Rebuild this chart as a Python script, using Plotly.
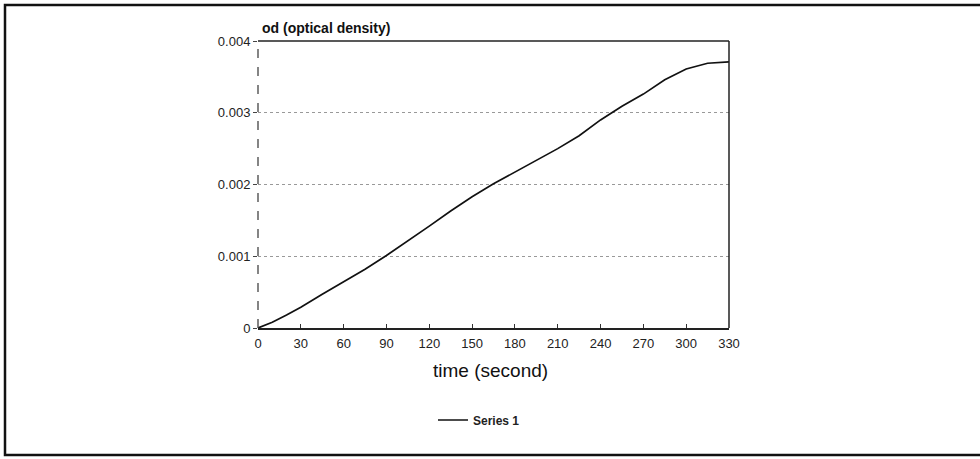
import plotly.graph_objects as go

time_s = [0, 10, 20, 30, 45, 60, 75, 90, 105, 120, 135, 150, 165, 180, 195, 210,
          225, 240, 255, 270, 285, 300, 315, 330]
od_values = [0, 0.00008, 0.00018, 0.00029, 0.00047, 0.00064, 0.00082, 0.00101,
             0.00121, 0.00142, 0.00163, 0.00183, 0.00201, 0.00217, 0.00233, 0.0025,
             0.00268, 0.00290, 0.00309, 0.00326, 0.00346, 0.00361, 0.00369, 0.00371]
x_ticks = [0, 30, 60, 90, 120, 150, 180, 210, 240, 270, 300, 330]
y_ticks = [0, 0.001, 0.002, 0.003, 0.004]
y_tick_labels = ["0", "0.001", "0.002", "0.003", "0.004"]

FONT = "Liberation Sans, Arial, sans-serif"
L, R, T, B = 258, 251, 41, 131
W, H = 980, 459
pw, ph = W - L - R, H - T - B

def px_x(p):
    return (p - L) / pw

def px_y(p):
    return (H - B - p) / ph

fig = go.Figure()
fig.add_trace(go.Scatter(x=time_s, y=od_values, mode="lines", name="Series 1",
                         line=dict(color="#111", width=1.7)))

fig.update_layout(
    width=W, height=H,
    margin=dict(l=L, r=R, t=T, b=B),
    paper_bgcolor="white", plot_bgcolor="white",
    font=dict(family=FONT, color="#222", size=12),
    showlegend=True,
    legend=dict(x=px_x(433), y=px_y(420), xanchor="left", yanchor="middle",
                font=dict(size=12, color="#222", weight="bold"),
                bgcolor="rgba(0,0,0,0)", itemwidth=30),
    xaxis=dict(range=[0, 330], tickvals=x_ticks, ticks="inside", ticklen=4,
               tickcolor="#333", showline=True, linecolor="#222", linewidth=1.5,
               showgrid=False, zeroline=False, ticklabelstandoff=3,
               tickfont=dict(size=13, color="#222")),
    yaxis=dict(range=[0, 0.004], tickvals=y_ticks, ticktext=y_tick_labels,
               ticks="outside", ticklen=4, tickcolor="#444",
               showline=False, showgrid=True, gridcolor="#999",
               griddash="dot", gridwidth=1, zeroline=False,
               tickfont=dict(size=13, color="#222")),
)

# frame lines: dashed left axis, solid top and right
fig.add_shape(type="line", xref="paper", yref="paper", x0=0, x1=0, y0=0, y1=1,
              line=dict(color="#444", width=1.3, dash="dash"))
fig.add_shape(type="line", xref="paper", yref="paper", x0=0, x1=1, y0=1, y1=1,
              line=dict(color="#222", width=1.5))
fig.add_shape(type="line", xref="paper", yref="paper", x0=1, x1=1, y0=0, y1=1,
              line=dict(color="#222", width=1.5))

# outer border
fig.add_shape(type="rect", xref="paper", yref="paper",
              x0=px_x(5), x1=px_x(990), y0=px_y(455), y1=px_y(5),
              line=dict(color="#111", width=2.5))

fig.add_annotation(text="<b>od (optical density)</b>", xref="paper", yref="paper",
                   x=px_x(260), y=px_y(28), xanchor="left", yanchor="middle",
                   showarrow=False, font=dict(size=14, color="#111", family=FONT))
fig.add_annotation(text="time (second)", xref="paper", yref="paper",
                   x=px_x(490), y=px_y(371), xanchor="center", yanchor="middle",
                   showarrow=False, font=dict(size=19, color="#111", family=FONT))

fig.write_html("out.html",
               config={"displayModeBar": False},
               post_script="document.body.style.margin='0';"
                           "document.body.style.overflow='hidden';")
